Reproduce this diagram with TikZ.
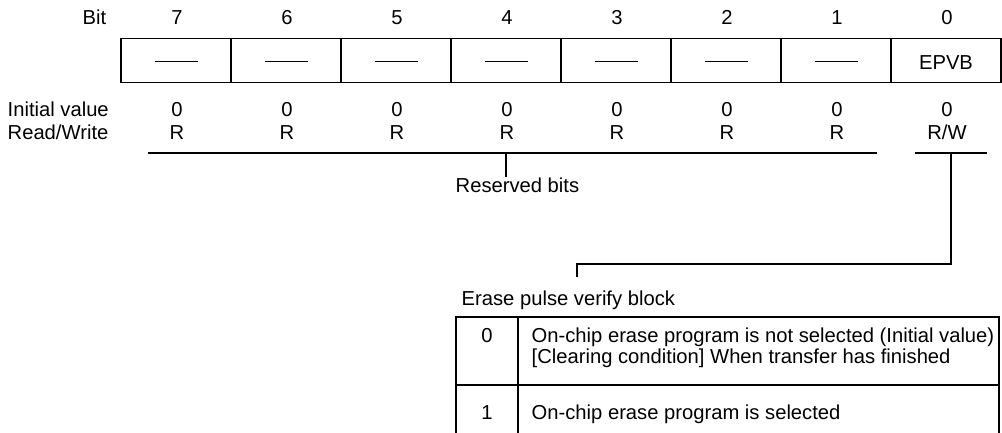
\documentclass[tikz,border=0pt]{standalone}
\usepackage{fontspec}
\setmainfont{Liberation Sans}
\begin{document}
\begin{tikzpicture}[x=1pt,y=-1pt,
  font=\fontsize{20.2}{24}\selectfont,
  line width=1.4pt,
  lbl/.style={inner sep=0pt,anchor=base},
  lblw/.style={inner sep=0pt,anchor=base west},
  lble/.style={inner sep=0pt,anchor=base east},
  cell/.style={draw,line width=1.4pt,minimum width=110pt,minimum height=44.4pt,inner sep=0pt},
  wire/.style={line width=1.4pt}]
\useasboundingbox (0,0) rectangle (1002,432);
\clip (0,0) rectangle (1002,432);

% labels on the left
\node[lble] (bitlbl) at (107,24) {Bit};
\node[lblw] (initlbl) at (7,116) {Initial value};
\node[lblw] (rwlbl) at (7,139) {Read/Write};

% register cells
\foreach \i in {0,...,7}{
  \pgfmathsetmacro{\cx}{121+(7-\i)*110+55}
  \node[cell] (c\i) at (\cx,60.5) {};
  \node[lbl] (b\i) at (\cx+1,24) {\i};
  \node[lbl] (v\i) at (\cx+1,116) {0};
}
\foreach \i in {1,...,7}{
  \pgfmathsetmacro{\cx}{121+(7-\i)*110+55}
  \draw[wire] (\cx-21.5,61.7) -- (\cx+21.5,61.7);
  \node[lbl] (r\i) at (\cx+1,139) {R};
}
\node[lbl] (epvb) at (946,69) {EPVB};
\node[lbl] (r0) at (947,139) {R/W};

% reserved bracket
\coordinate (resL) at (148,153);
\coordinate (resR) at (877,153);
\coordinate (resT) at (506,153);
\coordinate (resB) at (506,177);
\draw[wire] (resL) -- (resR);
\draw[wire] (resT) -- (resB);
\node[lblw] (reserved) at (455,192) {Reserved bits};

% EPVB bracket and connector
\coordinate (rwL) at (915,153);
\coordinate (rwR) at (987,153);
\coordinate (rwT) at (951,153);
\coordinate (rwB) at (577,277);
\draw[wire] (rwL) -- (rwR);
\draw[wire] (rwT) -- (951,264) -- (577,264) -- (rwB);
\node[lblw] (epvbtitle) at (461,305) {Erase pulse verify block};

% table
\draw[wire] (456,317) rectangle (999,445);
\draw[wire] (518,317) -- (518,445);
\draw[wire] (456,385) -- (999,385);
\node[lbl] (t0) at (487,342) {0};
\node[lblw] (t0a) at (531,342) {On-chip erase program is not selected (Initial value)};
\node[lblw] (t0b) at (531,363) {[Clearing condition] When transfer has finished};
\node[lbl] (t1) at (487,419) {1};
\node[lblw] (t1a) at (531,419) {On-chip erase program is selected};
\end{tikzpicture}
\end{document}
